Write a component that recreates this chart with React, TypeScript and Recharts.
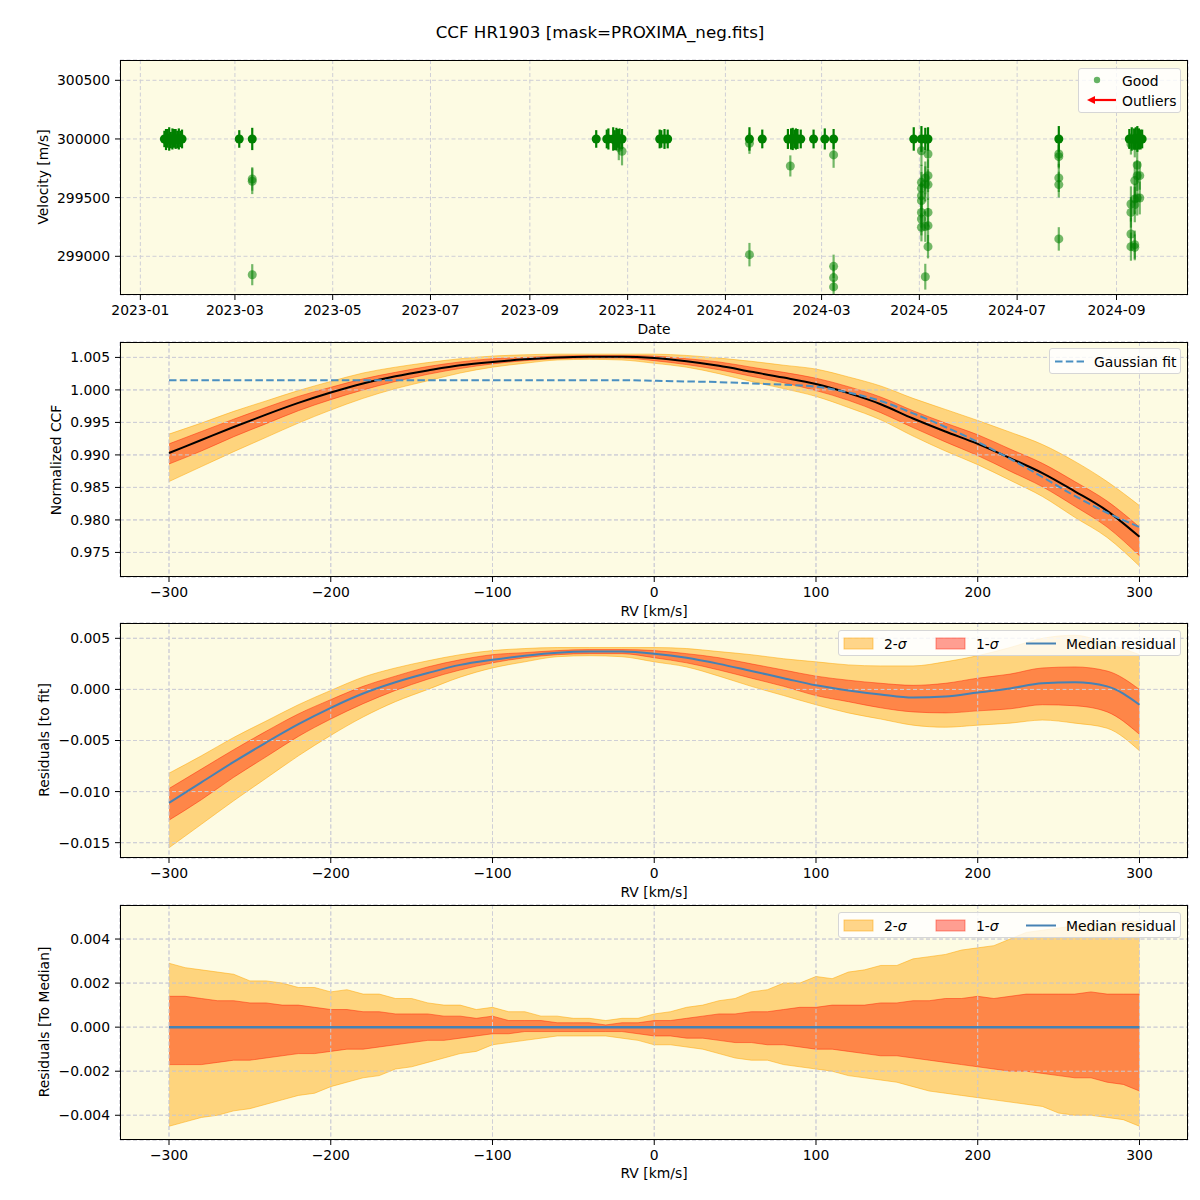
import {
  Area,
  CartesianGrid,
  ComposedChart,
  ErrorBar,
  Line,
  Scatter,
  XAxis,
  YAxis,
} from "recharts";

// ---- panel 1: velocity vs date (days since 2023-01-01) ----
const dayTop = [15, 16, 17, 18, 19, 20, 21, 22, 23, 24, 25, 26, 61.7, 69.8, 284.4, 291, 292, 295, 296, 297, 298, 299, 300.5, 324, 325, 327, 329, 380, 388, 404, 406, 407, 408, 409, 410, 412, 420, 427, 432.5, 482.5, 487.3, 489.7, 491.4, 573, 617, 618.5, 620, 621, 622, 623, 624, 625];
const velTop = [300000, 299995, 300005, 300000, 299990, 300000, 300005, 300000, 299995, 300000, 300000, 300000, 300000, 300000, 300000, 300000, 300000, 300000, 299990, 300000, 300005, 300000, 300000, 300000, 300000, 300000, 300000, 300000, 300000, 300000, 300000, 300000, 300000, 300000, 300000, 300000, 300000, 300000, 300000, 300000, 300000, 300000, 300000, 300000, 300000, 300000, 300000, 300005, 300000, 300000, 299995, 300000];
const errTop = [70, 90, 80, 100, 70, 90, 80, 85, 75, 90, 70, 80, 75, 95, 75, 80, 90, 100, 85, 95, 80, 90, 85, 80, 75, 85, 80, 100, 80, 85, 90, 95, 80, 90, 85, 80, 80, 90, 85, 100, 110, 95, 100, 110, 85, 100, 90, 95, 110, 90, 85, 80];

const dayLow = [69.8, 69.8, 69.8, 298.5, 300.5, 380, 380, 405.5, 432.5, 432.5, 432.5, 432.5, 487.3, 487.3, 487.3, 487.3, 487.3, 487.3, 487.3, 487.3, 489.7, 489.7, 489.7, 489.7, 491.4, 491.4, 491.4, 491.4, 491.4, 491.4, 573, 573, 573, 573, 573, 618, 618, 618, 618, 618, 620.4, 620.4, 620.4, 620.4, 620.4, 620.4, 621.9, 621.9, 621.9, 623.5, 623.5];
const velLow = [299659, 299640, 298843, 299929, 299895, 299963, 299014, 299770, 299864, 298914, 298818, 298739, 299900, 299630, 299579, 299517, 299474, 299374, 299318, 299247, 299668, 299617, 299253, 298826, 299872, 299687, 299611, 299374, 299261, 299082, 299872, 299849, 299668, 299611, 299148, 299957, 299446, 299374, 299190, 299082, 299943, 299645, 299489, 299440, 299076, 299099, 299778, 299687, 299497, 299687, 299497];
const errLow = [100, 110, 90, 110, 120, 90, 100, 90, 110, 100, 110, 60, 130, 150, 140, 120, 150, 130, 140, 120, 140, 150, 130, 110, 120, 140, 130, 120, 150, 100, 110, 100, 120, 110, 100, 90, 150, 130, 140, 120, 100, 160, 130, 150, 110, 120, 140, 130, 150, 120, 140];

const dateTicks = [0, 59, 120, 181, 243, 304, 365, 425, 486, 547, 609];
const dateLabels = ["2023-01", "2023-03", "2023-05", "2023-07", "2023-09", "2023-11", "2024-01", "2024-03", "2024-05", "2024-07", "2024-09"];
const velTicks = [299000, 299500, 300000, 300500];

// ---- panel 2 + 3: CCF and residual to fit, every 20 km/s ----
const rv20 = [-300, -280, -260, -240, -220, -200, -180, -160, -140, -120, -100, -80, -60, -40, -20, 0, 20, 40, 60, 80, 100, 120, 140, 160, 180, 200, 220, 240, 260, 280, 300];

const ccfMed = [0.9903, 0.9923, 0.9943, 0.9962, 0.998, 0.9996, 1.001, 1.0021, 1.003, 1.0038, 1.0043, 1.0047, 1.005, 1.0051, 1.0051, 1.0049, 1.0044, 1.0037, 1.0028, 1.0019, 1.0009, 0.9995, 0.9978, 0.9956, 0.9936, 0.9917, 0.9895, 0.9872, 0.9844, 0.9814, 0.9774];
const ccfFit = [1.0015, 1.0015, 1.0015, 1.0015, 1.0015, 1.0015, 1.0015, 1.0015, 1.0015, 1.0015, 1.0015, 1.0015, 1.0015, 1.0015, 1.0015, 1.0014, 1.0013, 1.0012, 1.001, 1.0008, 1.0005, 0.9996, 0.9983, 0.9964, 0.9943, 0.992, 0.9894, 0.9866, 0.9837, 0.9811, 0.9789];
const ccf2Hi = [0.9932, 0.9949, 0.9967, 0.9983, 0.9999, 1.0013, 1.0026, 1.0035, 1.0042, 1.0048, 1.0052, 1.0054, 1.0055, 1.0055, 1.0055, 1.0055, 1.0053, 1.0049, 1.0044, 1.0038, 1.0032, 1.002, 1.0006, 0.9987, 0.997, 0.9953, 0.9935, 0.9916, 0.989, 0.9859, 0.9822];
const ccf1Hi = [0.9917, 0.9936, 0.9955, 0.9973, 0.999, 1.0004, 1.0017, 1.0027, 1.0036, 1.0043, 1.0048, 1.005, 1.0052, 1.0053, 1.0053, 1.0052, 1.0048, 1.0043, 1.0035, 1.0027, 1.0018, 1.0005, 0.9989, 0.9968, 0.9949, 0.9931, 0.9909, 0.9887, 0.9859, 0.9829, 0.9789];
const ccf1Lo = [0.9886, 0.9906, 0.9928, 0.9948, 0.9968, 0.9985, 1.0, 1.0013, 1.0024, 1.0033, 1.004, 1.0045, 1.0048, 1.0049, 1.0049, 1.0045, 1.0039, 1.0031, 1.0021, 1.0011, 0.9999, 0.9984, 0.9965, 0.9942, 0.992, 0.9899, 0.9875, 0.9851, 0.9821, 0.9789, 0.9745];
const ccf2Lo = [0.9859, 0.9882, 0.9905, 0.9927, 0.9949, 0.9969, 0.9987, 1.0002, 1.0014, 1.0026, 1.0035, 1.0041, 1.0046, 1.0047, 1.0046, 1.0041, 1.0035, 1.0025, 1.0013, 1.0002, 0.999, 0.9973, 0.9954, 0.9929, 0.9906, 0.9885, 0.9861, 0.9836, 0.9804, 0.9773, 0.9729];

const resMed = [-0.0111, -0.0091, -0.0071, -0.0052, -0.0034, -0.0018, -0.0004, 0.0007, 0.0016, 0.0024, 0.0029, 0.0033, 0.0036, 0.0037, 0.0037, 0.0035, 0.0031, 0.0025, 0.0018, 0.0011, 0.0004, -0.0001, -0.0005, -0.0008, -0.0007, -0.0003, 0.0001, 0.0006, 0.0007, 0.0003, -0.0015];
const res2Hi = [-0.0082, -0.0065, -0.0047, -0.0031, -0.0015, -0.0001, 0.0012, 0.0021, 0.0028, 0.0034, 0.0038, 0.004, 0.0041, 0.0041, 0.0041, 0.0041, 0.004, 0.0037, 0.0034, 0.003, 0.0027, 0.0024, 0.0023, 0.0023, 0.0027, 0.0033, 0.0041, 0.005, 0.0053, 0.0045, 0.0034];
const res1Hi = [-0.0097, -0.0078, -0.0059, -0.0041, -0.0024, -0.001, 0.0003, 0.0013, 0.0022, 0.0029, 0.0034, 0.0036, 0.0038, 0.0039, 0.0039, 0.0038, 0.0035, 0.0031, 0.0025, 0.0019, 0.0013, 0.0009, 0.0006, 0.0004, 0.0006, 0.0011, 0.0015, 0.0021, 0.0022, 0.0018, 0.0];
const res1Lo = [-0.0128, -0.0108, -0.0086, -0.0066, -0.0046, -0.0029, -0.0014, -0.0001, 0.001, 0.0019, 0.0026, 0.0031, 0.0034, 0.0035, 0.0035, 0.0031, 0.0026, 0.0019, 0.0011, 0.0003, -0.0006, -0.0012, -0.0018, -0.0022, -0.0023, -0.0021, -0.0019, -0.0015, -0.0016, -0.0022, -0.0044];
const res2Lo = [-0.0155, -0.0132, -0.0109, -0.0087, -0.0065, -0.0045, -0.0027, -0.0012, 0.0, 0.0012, 0.0021, 0.0027, 0.0032, 0.0033, 0.0032, 0.0027, 0.0022, 0.0013, 0.0003, -0.0006, -0.0015, -0.0023, -0.0029, -0.0035, -0.0037, -0.0035, -0.0033, -0.003, -0.0033, -0.0038, -0.006];

// ---- panel 4: residual to median, every 10 km/s ----
const rv10 = [-300, -290, -280, -270, -260, -250, -240, -230, -220, -210, -200, -190, -180, -170, -160, -150, -140, -130, -120, -110, -100, -90, -80, -70, -60, -50, -40, -30, -20, -10, 0, 10, 20, 30, 40, 50, 60, 70, 80, 90, 100, 110, 120, 130, 140, 150, 160, 170, 180, 190, 200, 210, 220, 230, 240, 250, 260, 270, 280, 290, 300];
const dev2Hi = [0.0029, 0.0027, 0.0026, 0.0025, 0.0024, 0.0021, 0.0021, 0.002, 0.0018, 0.0018, 0.0016, 0.0017, 0.0015, 0.0015, 0.0013, 0.0013, 0.0011, 0.001, 0.001, 0.0008, 0.0009, 0.0007, 0.0007, 0.0005, 0.0005, 0.0004, 0.0004, 0.0003, 0.0004, 0.0004, 0.0006, 0.0007, 0.0009, 0.001, 0.0012, 0.0013, 0.0016, 0.0017, 0.002, 0.002, 0.0023, 0.0022, 0.0025, 0.0026, 0.0028, 0.0028, 0.0031, 0.0032, 0.0033, 0.0035, 0.0036, 0.0037, 0.004, 0.0043, 0.0044, 0.0045, 0.0046, 0.0047, 0.0047, 0.0048, 0.0048];
const dev1Hi = [0.0014, 0.0014, 0.0013, 0.0012, 0.0012, 0.0011, 0.0011, 0.001, 0.001, 0.0009, 0.0008, 0.0008, 0.0007, 0.0007, 0.0006, 0.0006, 0.0006, 0.0005, 0.0005, 0.0004, 0.0005, 0.0003, 0.0003, 0.0003, 0.0002, 0.0002, 0.0002, 0.0001, 0.0002, 0.0002, 0.0003, 0.0003, 0.0004, 0.0005, 0.0006, 0.0006, 0.0007, 0.0007, 0.0008, 0.0009, 0.0009, 0.001, 0.001, 0.001, 0.0011, 0.0011, 0.0012, 0.0012, 0.0013, 0.0013, 0.0014, 0.0013, 0.0014, 0.0015, 0.0015, 0.0015, 0.0015, 0.0016, 0.0015, 0.0015, 0.0015];
const dev1Lo = [-0.0017, -0.0017, -0.0017, -0.0016, -0.0015, -0.0015, -0.0014, -0.0013, -0.0012, -0.0012, -0.0011, -0.001, -0.001, -0.0009, -0.0008, -0.0007, -0.0006, -0.0006, -0.0005, -0.0004, -0.0003, -0.0003, -0.0002, -0.0002, -0.0002, -0.0002, -0.0002, -0.0002, -0.0002, -0.0003, -0.0004, -0.0004, -0.0005, -0.0005, -0.0006, -0.0007, -0.0007, -0.0008, -0.0008, -0.0009, -0.001, -0.001, -0.0011, -0.0012, -0.0013, -0.0013, -0.0014, -0.0015, -0.0016, -0.0017, -0.0018, -0.0019, -0.002, -0.002, -0.0021, -0.0022, -0.0023, -0.0023, -0.0025, -0.0026, -0.0029];
const dev2Lo = [-0.0045, -0.0043, -0.0041, -0.004, -0.0038, -0.0037, -0.0035, -0.0033, -0.0031, -0.003, -0.0027, -0.0025, -0.0023, -0.0022, -0.0019, -0.0018, -0.0016, -0.0014, -0.0012, -0.0011, -0.0008, -0.0007, -0.0006, -0.0005, -0.0004, -0.0004, -0.0004, -0.0004, -0.0005, -0.0006, -0.0008, -0.0008, -0.0009, -0.001, -0.0012, -0.0014, -0.0015, -0.0015, -0.0017, -0.0018, -0.0019, -0.002, -0.0022, -0.0023, -0.0024, -0.0025, -0.0027, -0.0029, -0.003, -0.0031, -0.0032, -0.0033, -0.0034, -0.0035, -0.0036, -0.0039, -0.004, -0.004, -0.0041, -0.0042, -0.0045];
const devMed = [0, 0, 0, 0, 0, 0, 0, 0, 0, 0, 0, 0, 0, 0, 0, 0, 0, 0, 0, 0, 0, 0, 0, 0, 0, 0, 0, 0, 0, 0, 0, 0, 0, 0, 0, 0, 0, 0, 0, 0, 0, 0, 0, 0, 0, 0, 0, 0, 0, 0, 0, 0, 0, 0, 0, 0, 0, 0, 0, 0, 0];

const rvTicks = [-300, -200, -100, 0, 100, 200, 300];
const ccfTicks = [0.975, 0.98, 0.985, 0.99, 0.995, 1.0, 1.005];
const resTicks = [-0.015, -0.01, -0.005, 0, 0.005];
const devTicks = [-0.004, -0.002, 0, 0.002, 0.004];

const FONT = "'DejaVu Sans', sans-serif";
const BG = "#fdfbe3";
const GRID = "#cfcfd6";
const TICK = { fontSize: 13.9, fill: "#000" };
const RV_DOMAIN: [number, number] = [-330.3, 330];
const ORANGE = "#ffa500";
const RED = "#ff1a00";
const BLUE = "#4682b4";

const goodTop = dayTop.map((d, i) => ({ d, v: velTop[i], e: errTop[i] }));
const goodLow = dayLow.map((d, i) => ({ d, v: velLow[i], e: errLow[i] }));

const ccfRows = rv20.map((rv, i) => ({
  rv,
  s2: [ccf2Lo[i], ccf2Hi[i]],
  s1: [ccf1Lo[i], ccf1Hi[i]],
  med: ccfMed[i],
  fit: ccfFit[i],
}));
const resRows = rv20.map((rv, i) => ({
  rv,
  s2: [res2Lo[i], res2Hi[i]],
  s1: [res1Lo[i], res1Hi[i]],
  med: resMed[i],
}));
const devRows = rv10.map((rv, i) => ({
  rv,
  s2: [dev2Lo[i], dev2Hi[i]],
  s1: [dev1Lo[i], dev1Hi[i]],
  med: devMed[i],
}));

const minus = (s: string) => s.replace("-", "\u2212");
const fmt = (digits: number) => (v: number) => minus(Number(v).toFixed(digits));
const dateFmt = (v: number) => dateLabels[dateTicks.indexOf(v)] ?? "";

// background grid and the two labelled axes; the frame is drawn as an overlay box
function frame(
  dataKey: string,
  xDomain: [number, number],
  xTicks: number[],
  xFmt: (v: number) => string,
  yDomain: [number, number],
  yTicks: number[],
  yFmt: (v: number) => string,
) {
  return [
    <CartesianGrid key="bg" fill={BG} fillOpacity={1} stroke={GRID} strokeDasharray="4 2.5" />,
    <XAxis
      key="x"
      type="number"
      dataKey={dataKey}
      domain={xDomain}
      ticks={xTicks}
      interval={0}
      allowDataOverflow
      tickFormatter={xFmt}
      tick={TICK}
      tickSize={5}
      tickMargin={5}
      height={40}
      axisLine={false}
      tickLine={{ stroke: "#000" }}
    />,
    <YAxis
      key="y"
      type="number"
      domain={yDomain}
      ticks={yTicks}
      interval={0}
      allowDataOverflow
      tickFormatter={yFmt}
      tick={TICK}
      tickSize={5}
      tickMargin={5}
      width={70}
      axisLine={false}
      tickLine={{ stroke: "#000" }}
    />,
  ];
}

function bands(curve: "linear" | "monotone") {
  return [
    <Area
      key="s2"
      type={curve}
      dataKey="s2"
      fill={ORANGE}
      fillOpacity={0.45}
      stroke={ORANGE}
      strokeOpacity={0.5}
      strokeWidth={1}
      dot={false}
      activeDot={false}
      isAnimationActive={false}
    />,
    <Area
      key="s1"
      type={curve}
      dataKey="s1"
      fill={RED}
      fillOpacity={0.42}
      stroke={RED}
      strokeOpacity={0.45}
      strokeWidth={1}
      dot={false}
      activeDot={false}
      isAnimationActive={false}
    />,
    <CartesianGrid key="over" fill="none" stroke={GRID} strokeDasharray="4 2.5" zIndex={150} />,
  ];
}

const MARGIN = { top: 5, right: 12, bottom: 0, left: 50 };

function Box({ top }: { top: number }) {
  return (
    <div
      style={{
        position: "absolute",
        left: 120,
        top,
        width: 1068,
        height: 235,
        border: "1px solid #000",
        boxSizing: "border-box",
        pointerEvents: "none",
      }}
    />
  );
}

function Text({ x, y, children, rotate = false, size = 13.9 }: any) {
  return (
    <div
      style={{
        position: "absolute",
        left: x,
        top: y,
        transform: `translate(-50%, -50%)${rotate ? " rotate(-90deg)" : ""}`,
        whiteSpace: "nowrap",
        fontSize: size,
        lineHeight: 1,
      }}
    >
      {children}
    </div>
  );
}

const legendBox = {
  position: "absolute" as const,
  background: "rgba(255,255,255,0.8)",
  border: "1px solid #d6d6d6",
  borderRadius: 3,
  fontSize: 13.9,
  boxSizing: "border-box" as const,
};

function SigmaLegend({ top }: { top: number }) {
  return (
    <div style={{ ...legendBox, left: 838, top, width: 343, height: 26 }}>
      <svg width={343} height={26} style={{ position: "absolute", left: 0, top: 0 }}>
        <rect x={5} y={7} width={29} height={11} fill={ORANGE} fillOpacity={0.45} stroke={ORANGE} strokeOpacity={0.5} />
        <rect x={97} y={7} width={29} height={11} fill={RED} fillOpacity={0.42} stroke={RED} strokeOpacity={0.45} />
        <line x1={187} y1={12.5} x2={217} y2={12.5} stroke={BLUE} strokeWidth={2} />
      </svg>
      <span style={{ position: "absolute", left: 45, top: 5 }}>
        2-<i>σ</i>
      </span>
      <span style={{ position: "absolute", left: 137, top: 5 }}>
        1-<i>σ</i>
      </span>
      <span style={{ position: "absolute", left: 227, top: 5 }}>Median residual</span>
    </div>
  );
}

export default function App() {
  return (
    <div
      style={{
        position: "absolute",
        left: 0,
        top: 0,
        width: 1200,
        height: 1200,
        background: "#fff",
        fontFamily: FONT,
        color: "#000",
      }}
    >
      <Text x={600} y={32} size={16.7}>
        CCF HR1903 [mask=PROXIMA_neg.fits]
      </Text>

      {/* velocity time series */}
      <div style={{ position: "absolute", left: 0, top: 55 }}>
        <ComposedChart width={1200} height={280} margin={MARGIN}>
          {frame("d", [-12.7, 653.6], dateTicks, dateFmt, [298670, 300673], velTicks, (v) => String(v))}
          <Scatter data={goodTop} dataKey="v" fill="#008000" isAnimationActive={false}>
            <ErrorBar dataKey="e" direction="y" width={0} stroke="#008000" strokeWidth={2.2} />
          </Scatter>
          <Scatter data={goodLow} dataKey="v" fill="#008000" fillOpacity={0.55} isAnimationActive={false}>
            <ErrorBar dataKey="e" direction="y" width={0} stroke="rgba(0,128,0,0.55)" strokeWidth={2.2} />
          </Scatter>
        </ComposedChart>
      </div>
      <Box top={60} />
      <Text x={44} y={177} rotate>
        Velocity [m/s]
      </Text>
      <Text x={654} y={330}>
        Date
      </Text>
      <div style={{ ...legendBox, left: 1078, top: 68, width: 103, height: 45 }}>
        <svg width={103} height={45} style={{ position: "absolute", left: 0, top: 0 }}>
          <circle cx={18} cy={11} r={3.2} fill="#008000" fillOpacity={0.6} />
          <line x1={37} y1={31} x2={14} y2={31} stroke="red" strokeWidth={2.2} />
          <polygon points="8,31 16,27 16,35" fill="red" />
        </svg>
        <span style={{ position: "absolute", left: 43, top: 4 }}>Good</span>
        <span style={{ position: "absolute", left: 43, top: 24 }}>Outliers</span>
      </div>

      {/* normalized CCF */}
      <div style={{ position: "absolute", left: 0, top: 337 }}>
        <ComposedChart width={1200} height={280} margin={MARGIN} data={ccfRows}>
          {frame("rv", RV_DOMAIN, rvTicks, fmt(0), [0.97122, 1.00737], ccfTicks, fmt(3))}
          {bands("monotone")}
          <Line type="monotone" dataKey="med" stroke="#000" strokeWidth={2} dot={false} activeDot={false} isAnimationActive={false} />
          <Line
            type="monotone"
            dataKey="fit"
            stroke="#4a8fc1"
            strokeWidth={2}
            strokeDasharray="7.5 3.3"
            dot={false}
            activeDot={false}
            isAnimationActive={false}
          />
        </ComposedChart>
      </div>
      <Box top={342} />
      <Text x={57} y={460} rotate>
        Normalized CCF
      </Text>
      <Text x={654} y={612}>
        RV [km/s]
      </Text>
      <div style={{ ...legendBox, left: 1049, top: 348, width: 132, height: 26 }}>
        <svg width={132} height={26} style={{ position: "absolute", left: 0, top: 0 }}>
          <line x1={5} y1={12.5} x2={34} y2={12.5} stroke="#4a8fc1" strokeWidth={2} strokeDasharray="7.5 3.3" />
        </svg>
        <span style={{ position: "absolute", left: 44, top: 5 }}>Gaussian fit</span>
      </div>

      {/* residuals to fit */}
      <div style={{ position: "absolute", left: 0, top: 618 }}>
        <ComposedChart width={1200} height={280} margin={MARGIN} data={resRows}>
          {frame("rv", RV_DOMAIN, rvTicks, fmt(0), [-0.0165, 0.0065], resTicks, fmt(3))}
          {bands("monotone")}
          <Line type="monotone" dataKey="med" stroke={BLUE} strokeWidth={2} dot={false} activeDot={false} isAnimationActive={false} />
        </ComposedChart>
      </div>
      <Box top={623} />
      <Text x={45} y={740} rotate>
        Residuals [to fit]
      </Text>
      <Text x={654} y={893}>
        RV [km/s]
      </Text>
      <SigmaLegend top={630} />

      {/* residuals to median */}
      <div style={{ position: "absolute", left: 0, top: 900 }}>
        <ComposedChart width={1200} height={280} margin={MARGIN} data={devRows}>
          {frame("rv", RV_DOMAIN, rvTicks, fmt(0), [-0.005123, 0.005545], devTicks, fmt(3))}
          {bands("linear")}
          <Line type="linear" dataKey="med" stroke={BLUE} strokeWidth={2.5} dot={false} activeDot={false} isAnimationActive={false} />
        </ComposedChart>
      </div>
      <Box top={905} />
      <Text x={45} y={1022} rotate>
        Residuals [To Median]
      </Text>
      <Text x={654} y={1174}>
        RV [km/s]
      </Text>
      <SigmaLegend top={912} />
    </div>
  );
}
